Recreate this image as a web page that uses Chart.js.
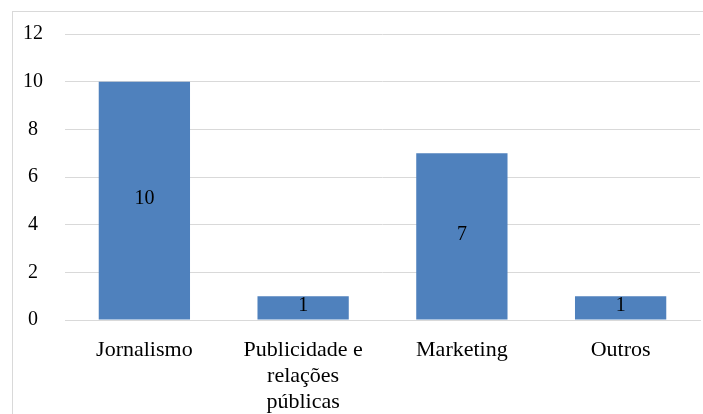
<!DOCTYPE html>
<html>
<head>
<meta charset="utf-8">
<script src="https://cdn.jsdelivr.net/npm/chart.js@4/dist/chart.umd.min.js"></script>
<style>
  html, body { margin: 0; padding: 0; background: #ffffff; overflow: hidden; }
  #wrap { position: relative; width: 703px; height: 414px; overflow: hidden; }
  #frame { position: absolute; left: 12px; top: 11px; width: 900px; height: 600px;
           border-left: 1px solid #d9d9d9; border-top: 1px solid #d9d9d9; }
  canvas { position: absolute; left: 0; top: 0; }
</style>
</head>
<body>
<div id="wrap">
  <div id="frame"></div>
  <canvas id="c" width="703" height="414"></canvas>
</div>
<script>
const categories = [
  'Jornalismo',
  ['Publicidade e', 'relações', 'públicas'],
  'Marketing',
  'Outros'
];
const values = [10, 1, 7, 1];
const yTicks = [0, 2, 4, 6, 8, 10, 12];

const FONT = "'Liberation Serif', 'Times New Roman', serif";

const centerLabels = {
  id: 'centerLabels',
  afterDatasetsDraw(chart) {
    const ctx = chart.ctx;
    const meta = chart.getDatasetMeta(0);
    ctx.save();
    ctx.font = "20px " + FONT;
    ctx.fillStyle = '#000000';
    ctx.textAlign = 'center';
    ctx.textBaseline = 'middle';
    meta.data.forEach((bar, i) => {
      const y = (bar.y + bar.base) / 2 - 2;
      ctx.fillText(String(values[i]), bar.x, y);
    });
    ctx.restore();
  }
};

new Chart(document.getElementById('c'), {
  type: 'bar',
  data: {
    labels: categories,
    datasets: [{
      data: values,
      backgroundColor: '#4F81BD',
      borderWidth: 0,
      categoryPercentage: 1.0,
      barPercentage: 0.575
    }]
  },
  options: {
    responsive: false,
    animation: false,
    layout: { padding: { left: 0, top: 33, right: 3, bottom: 0 } },
    plugins: { legend: { display: false }, tooltip: { enabled: false } },
    scales: {
      x: {
        grid: { display: false, drawTicks: false },
        border: { display: true, color: '#d9d9d9', width: 1 },
        ticks: { color: '#000000', font: { family: FONT, size: 22, lineHeight: 1.18 }, padding: 17, maxRotation: 0, autoSkip: false },
        afterFit(scale) { scale.height = 94; }
      },
      y: {
        min: 0, max: 12,
        afterBuildTicks(scale) { scale.ticks = yTicks.map(v => ({ value: v })); },
        grid: { color: '#d9d9d9', lineWidth: 1, drawTicks: false },
        border: { display: false },
        ticks: { color: '#000000', font: { family: FONT, size: 20 }, padding: 22, crossAlign: 'center' },
        afterFit(scale) { scale.width = 65; }
      }
    }
  },
  plugins: [centerLabels]
});
</script>
</body>
</html>
